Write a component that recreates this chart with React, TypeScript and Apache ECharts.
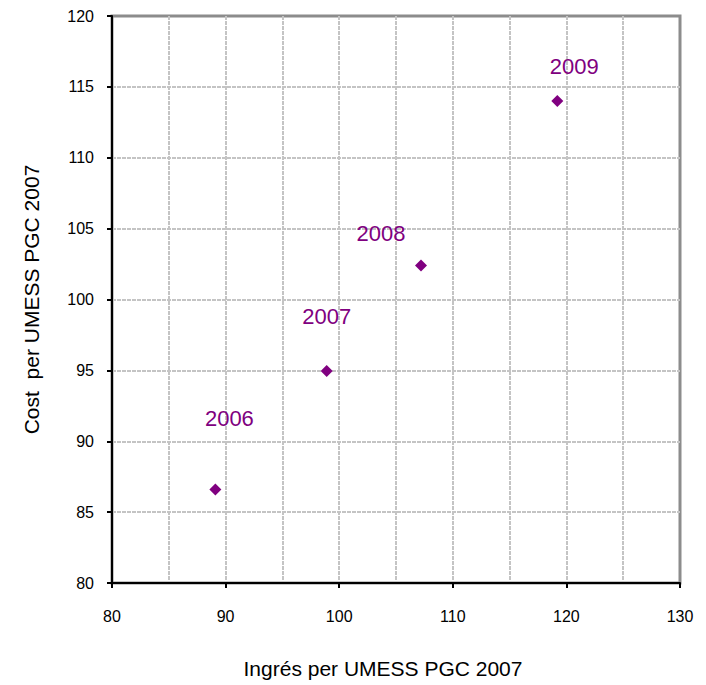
import React, { useEffect, useRef } from "react";
import * as echarts from "echarts";

const years = ["2006", "2007", "2008", "2009"];
const income = [89.1, 98.9, 107.2, 119.2];
const cost = [86.6, 94.95, 102.4, 114.0];
const labelOffsets: [number, number][] = [
  [14, -71],
  [0, -55],
  [-40, -32],
  [17, -35],
];

export default function App() {
  const ref = useRef<HTMLDivElement>(null);
  useEffect(() => {
    document.body.style.margin = "0";
    if (!ref.current) return;
    const chart = echarts.init(ref.current, null, { renderer: "svg" });
    const font = "'Liberation Sans', Arial, sans-serif";
    const gridLine = {
      show: true,
      showMaxLine: false,
      showMinLine: false,
      lineStyle: { color: "#c4c4c4", width: 2, type: [4, 1] as any },
    };
    chart.setOption({
      animation: false,
      backgroundColor: "#ffffff",
      grid: {
        left: 112,
        top: 16,
        right: 26,
        bottom: 102,
        show: true,
        borderColor: "#8c8c8c",
        borderWidth: 3,
        containLabel: false,
        outerBoundsMode: "none",
      },
      xAxis: {
        type: "value",
        min: 80,
        max: 130,
        interval: 10,
        name: "Ingrés per UMESS PGC 2007",
        nameLocation: "middle",
        nameGap: 75,
        nameTextStyle: { fontFamily: font, fontSize: 21, color: "#000", padding: [0, 26, 0, 0] },
        axisLine: { show: true, onZero: false, lineStyle: { color: "#000", width: 2 } },
        axisTick: { show: true, length: 5, lineStyle: { color: "#000", width: 2 } },
        axisLabel: { fontFamily: font, fontSize: 16, color: "#000", margin: 25 },
        splitLine: gridLine,
        minorTick: { show: false, splitNumber: 2 },
        minorSplitLine: { show: true, lineStyle: { color: "#c4c4c4", width: 2, type: [4, 1] as any } },
      },
      yAxis: {
        type: "value",
        min: 80,
        max: 120,
        interval: 5,
        name: "Cost  per UMESS PGC 2007",
        nameLocation: "middle",
        nameGap: 70,
        nameTextStyle: { fontFamily: font, fontSize: 21, color: "#000" },
        axisLine: { show: true, onZero: false, lineStyle: { color: "#000", width: 2 } },
        axisTick: { show: true, length: 5, lineStyle: { color: "#000", width: 2 } },
        axisLabel: { fontFamily: font, fontSize: 16, color: "#000", margin: 18 },
        splitLine: gridLine,
      },
      series: [
        {
          type: "scatter",
          symbol: "diamond",
          symbolSize: 12,
          itemStyle: { color: "#800080", opacity: 1 },
          data: years.map((y, i) => ({
            value: [income[i], cost[i]],
            name: y,
            label: {
              show: true,
              formatter: y,
              position: "inside",
              offset: labelOffsets[i],
              fontFamily: font,
              fontSize: 22,
              color: "#800080",
              opacity: 1,
            },
          })),
        },
      ],
    });
    return () => chart.dispose();
  }, []);
  return <div ref={ref} style={{ width: 706, height: 685 }} />;
}
